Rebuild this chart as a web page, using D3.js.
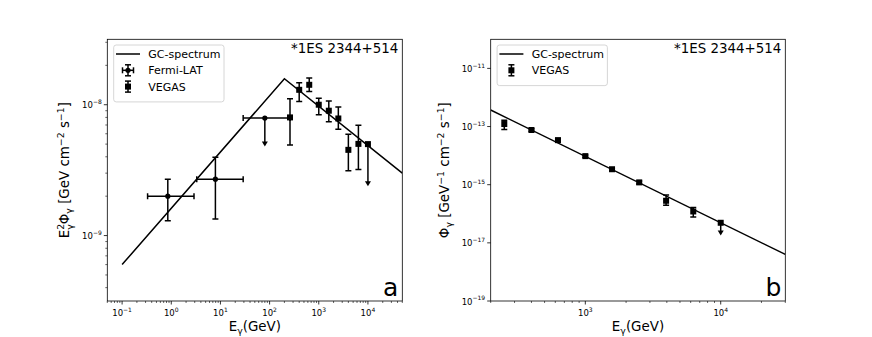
<!DOCTYPE html>
<html>
<head>
<meta charset="utf-8">
<script src="https://d3js.org/d3.v7.min.js"></script>
<style>
  body { margin: 0; background: #fff; }
  text { font-family: "DejaVu Sans", sans-serif; fill: #000; }
</style>
</head>
<body>
<div id="chart"></div>
<script>
// ---- panel a : E^2 * flux ----
var lineA_E = [0.1, 200, 5e4];
var lineA_F = [6.0e-10, 1.58e-8, 3.0e-9];

var fermi_E   = [0.85, 7.9, 80];
var fermi_Elo = [0.33, 3.3, 29];
var fermi_Ehi = [2.9, 29, 260];
var fermi_F   = [2.0e-9, 2.7e-9, 7.9e-9];
var fermi_Fhi = [2.7e-9, 3.97e-9, null];
var fermi_Flo = [1.3e-9, 1.34e-9, 4.8e-9];
var fermi_UL  = [false, false, true];

var vegasA_E   = [260, 400, 640, 1000, 1600, 2500, 4000, 6400, 10000];
var vegasA_F   = [8.0e-9, 1.30e-8, 1.42e-8, 1.0e-8, 9.0e-9, 7.85e-9, 4.52e-9, 5.02e-9, 5.0e-9];
var vegasA_Fhi = [1.11e-8, 1.47e-8, 1.6e-8, 1.12e-8, 1.07e-8, 9.6e-9, 5.95e-9, 6.98e-9, null];
var vegasA_Flo = [4.93e-9, 1.06e-8, 1.26e-8, 8.4e-9, 7.4e-9, 6.5e-9, 3.13e-9, 3.2e-9, 2.38e-9];
var vegasA_UL  = [false, false, false, false, false, false, false, false, true];

// ---- panel b : flux ----
var lineB_E = [200, 3e4];
var lineB_F = [3.7e-13, 4.0e-18];

var vegasB_E   = [252, 400, 628, 1000, 1575, 2500, 3950, 6270, 10000];
var vegasB_F   = [1.22e-13, 7.6e-14, 3.4e-14, 9.6e-15, 3.4e-15, 1.2e-15, 2.8e-16, 1.2e-16, 4.9e-17];
var vegasB_Fhi = [1.66e-13, 8.4e-14, 3.9e-14, 1.05e-14, 3.7e-15, 1.35e-15, 4.4e-16, 1.65e-16, null];
var vegasB_Flo = [7.9e-14, 6.9e-14, 2.9e-14, 8.8e-15, 3.1e-15, 1.05e-15, 1.97e-16, 7.8e-17, 1.8e-17];
var vegasB_UL  = [false, false, false, false, false, false, false, false, true];

var source = "*1ES 2344+514";

var svg = d3.select("#chart").append("svg")
    .attr("width", 872)
    .attr("height", 337);

// plot area of each panel (vertical extent shared)
var plotTop = 39.3, plotBottom = 301;

function supLabel(sel, exp) {
  sel.text("10");
  sel.append("tspan")
     .attr("dy", -4.3)
     .attr("font-size", "6px")
     .text(exp < 0 ? "\u2212" + (-exp) : exp);
}

function drawPanel(p) {
  var top = plotTop, bottom = plotBottom;
  var x = d3.scaleLog().domain(p.xDomain).range([p.left, p.right]);
  var y = d3.scaleLog().domain(p.yDomain).range([bottom, top]);
  var g = svg.append("g");

  var clipId = "clip" + p.name;
  svg.append("clipPath").attr("id", clipId)
     .append("rect")
     .attr("x", p.left).attr("y", top)
     .attr("width", p.right - p.left).attr("height", bottom - top);

  // x ticks
  var xmin = Math.floor(Math.log10(p.xDomain[0])), xmax = Math.ceil(Math.log10(p.xDomain[1]));
  for (var e = xmin; e <= xmax; e++) {
    for (var k = 1; k < 10; k++) {
      var v = k * Math.pow(10, e);
      if (v < p.xDomain[0] * 0.999 || v > p.xDomain[1] * 1.001) continue;
      var xx = x(v);
      g.append("line")
       .attr("x1", xx).attr("x2", xx)
       .attr("y1", bottom).attr("y2", bottom + (k == 1 ? 3.5 : 2))
       .attr("stroke", "#000").attr("stroke-width", k == 1 ? 0.8 : 0.6);
      if (k == 1) {
        g.append("text")
         .attr("x", xx).attr("y", bottom + 15)
         .attr("text-anchor", "middle")
         .attr("font-size", "8.5px")
         .call(supLabel, e);
      }
    }
  }

  // y ticks
  var ymin = Math.floor(Math.log10(p.yDomain[0])), ymax = Math.ceil(Math.log10(p.yDomain[1]));
  for (var e2 = ymin; e2 <= ymax; e2++) {
    for (var k2 = 1; k2 < 10; k2++) {
      if (k2 > 1 && !p.yMinor) continue;
      if (k2 == 1 && p.yStep && (e2 - ymin) % p.yStep != 0) continue;
      var v2 = k2 * Math.pow(10, e2);
      if (v2 < p.yDomain[0] * 0.999 || v2 > p.yDomain[1] * 1.001) continue;
      var yy = y(v2);
      g.append("line")
       .attr("x1", p.left).attr("x2", p.left - (k2 == 1 ? 3.5 : 2))
       .attr("y1", yy).attr("y2", yy)
       .attr("stroke", "#000").attr("stroke-width", k2 == 1 ? 0.8 : 0.6);
      if (k2 == 1) {
        g.append("text")
         .attr("x", p.left - 5.5).attr("y", yy + 3.5)
         .attr("text-anchor", "end")
         .attr("font-size", "8.5px")
         .call(supLabel, e2);
      }
    }
  }

  var plot = g.append("g").attr("clip-path", "url(#" + clipId + ")");

  // model line
  var line = d3.line().x(function(d) { return x(d[0]); }).y(function(d) { return y(d[1]); });
  plot.append("path")
      .datum(d3.zip(p.lineE, p.lineF))
      .attr("d", line)
      .attr("fill", "none")
      .attr("stroke", "#000")
      .attr("stroke-width", 1.5);

  // data sets with error bars
  p.sets.forEach(function(s) {
    s.E.forEach(function(E, i) {
      var cx = x(E), cy = y(s.F[i]);
      var yt = s.Fhi[i] != null ? y(s.Fhi[i]) : cy;
      var yb = y(s.Flo[i]);
      plot.append("line")
          .attr("x1", cx).attr("x2", cx).attr("y1", yt).attr("y2", s.UL[i] ? yb - 4 : yb)
          .attr("stroke", "#000").attr("stroke-width", 1.5);
      if (s.Fhi[i] != null)
        plot.append("line").attr("x1", cx - 3).attr("x2", cx + 3).attr("y1", yt).attr("y2", yt)
            .attr("stroke", "#000").attr("stroke-width", 1.5);
      if (s.UL[i]) {
        plot.append("path")
            .attr("d", "M" + (cx - 3) + "," + (yb - 5) + "L" + (cx + 3) + "," + (yb - 5) + "L" + cx + "," + yb + "Z")
            .attr("fill", "#000");
      } else {
        plot.append("line").attr("x1", cx - 3).attr("x2", cx + 3).attr("y1", yb).attr("y2", yb)
            .attr("stroke", "#000").attr("stroke-width", 1.5);
      }
      if (s.Elo) {
        var xl = x(s.Elo[i]), xr = x(s.Ehi[i]);
        plot.append("line").attr("x1", xl).attr("x2", xr).attr("y1", cy).attr("y2", cy)
            .attr("stroke", "#000").attr("stroke-width", 1.5);
        [xl, xr].forEach(function(xc) {
          plot.append("line").attr("x1", xc).attr("x2", xc).attr("y1", cy - 3).attr("y2", cy + 3)
              .attr("stroke", "#000").attr("stroke-width", 1.5);
        });
      }
      if (s.marker == "circle") {
        plot.append("circle").attr("cx", cx).attr("cy", cy).attr("r", 2.6).attr("fill", "#000");
      } else {
        plot.append("rect").attr("x", cx - 3).attr("y", cy - 3).attr("width", 6).attr("height", 6).attr("fill", "#000");
      }
    });
  });

  // frame
  g.append("rect")
   .attr("x", p.left).attr("y", top)
   .attr("width", p.right - p.left).attr("height", bottom - top)
   .attr("fill", "none").attr("stroke", "#000").attr("stroke-width", 0.8);

  // source name and panel letter
  g.append("text")
   .attr("x", p.right - 4).attr("y", top + 13.5)
   .attr("text-anchor", "end").attr("font-size", "13.4px")
   .text(source);
  g.append("text")
   .attr("x", p.right - 4).attr("y", bottom - 5)
   .attr("text-anchor", "end").attr("font-size", "25px")
   .text(p.name);

  // x label
  var xl = g.append("text")
   .attr("x", (p.left + p.right) / 2).attr("y", bottom + 30)
   .attr("text-anchor", "middle").attr("font-size", "13.4px")
   .text("E");
  xl.append("tspan").attr("dy", 3).attr("font-size", "9.4px").text("\u03b3");
  xl.append("tspan").attr("dy", -3).text("(GeV)");

  // y label
  var yl = g.append("text")
   .attr("transform", "translate(" + p.yLabelX + "," + ((top + bottom) / 2) + ") rotate(-90)")
   .attr("text-anchor", "middle").attr("font-size", "13.4px");
  p.yLabel(yl);

  // legend
  var lg = g.append("g").attr("transform", "translate(" + (p.left + 6.4) + "," + (top + 5.7) + ")");
  var rows = p.legend;
  lg.append("rect")
    .attr("width", 110.3).attr("height", 8 + rows.length * 16.3)
    .attr("rx", 2.5)
    .attr("fill", "#fff").attr("fill-opacity", 0.8)
    .attr("stroke", "#ccc").attr("stroke-width", 0.8);
  rows.forEach(function(r, i) {
    var ry = 9 + i * 16.3, mx = 14.3;
    if (r.type == "line") {
      lg.append("line").attr("x1", mx - 12).attr("x2", mx + 12).attr("y1", ry).attr("y2", ry)
        .attr("stroke", "#000").attr("stroke-width", 1.5);
    } else {
      lg.append("line").attr("x1", mx).attr("x2", mx).attr("y1", ry - 5.5).attr("y2", ry + 5.5)
        .attr("stroke", "#000").attr("stroke-width", 1.5);
      [ry - 5.5, ry + 5.5].forEach(function(c) {
        lg.append("line").attr("x1", mx - 3).attr("x2", mx + 3).attr("y1", c).attr("y2", c)
          .attr("stroke", "#000").attr("stroke-width", 1.5);
      });
      if (r.type == "circle") {
        lg.append("line").attr("x1", mx - 5.5).attr("x2", mx + 5.5).attr("y1", ry).attr("y2", ry)
          .attr("stroke", "#000").attr("stroke-width", 1.5);
        [mx - 5.5, mx + 5.5].forEach(function(c) {
          lg.append("line").attr("x1", c).attr("x2", c).attr("y1", ry - 3).attr("y2", ry + 3)
            .attr("stroke", "#000").attr("stroke-width", 1.5);
        });
        lg.append("circle").attr("cx", mx).attr("cy", ry).attr("r", 2.6).attr("fill", "#000");
      } else {
        lg.append("rect").attr("x", mx - 3).attr("y", ry - 3).attr("width", 6).attr("height", 6).attr("fill", "#000");
      }
    }
    lg.append("text").attr("x", 34.6).attr("y", ry + 4).attr("font-size", "11px").text(r.label);
  });
}

drawPanel({
  name: "a",
  left: 107.3, right: 402.3,
  xDomain: [0.05, 5e4],
  yDomain: [Math.pow(10, -9.5), Math.pow(10, -7.5)],
  yMinor: true,
  lineE: lineA_E, lineF: lineA_F,
  sets: [
    {E: fermi_E, Elo: fermi_Elo, Ehi: fermi_Ehi, F: fermi_F, Fhi: fermi_Fhi, Flo: fermi_Flo, UL: fermi_UL, marker: "circle"},
    {E: vegasA_E, F: vegasA_F, Fhi: vegasA_Fhi, Flo: vegasA_Flo, UL: vegasA_UL, marker: "square"}
  ],
  legend: [
    {type: "line", label: "GC-spectrum"},
    {type: "circle", label: "Fermi-LAT"},
    {type: "square", label: "VEGAS"}
  ],
  yLabelX: 69,
  yLabel: function(t) {
    t.append("tspan").text("E");
    t.append("tspan").attr("dy", -5.5).attr("font-size", "9.4px").text("2");
    t.append("tspan").attr("dx", -6).attr("dy", 9.5).attr("font-size", "9.4px").text("\u03b3");
    t.append("tspan").attr("dy", -4).text("\u03a6");
    t.append("tspan").attr("dy", 3).attr("font-size", "9.4px").text("\u03b3");
    t.append("tspan").attr("dy", -3).text(" [GeV cm");
    t.append("tspan").attr("dy", -5.5).attr("font-size", "9.4px").text("\u22122");
    t.append("tspan").attr("dy", 5.5).text(" s");
    t.append("tspan").attr("dy", -5.5).attr("font-size", "9.4px").text("\u22121");
    t.append("tspan").attr("dy", 5.5).text("]");
  }
});

drawPanel({
  name: "b",
  left: 490.7, right: 785.3,
  xDomain: [200, 3e4],
  yDomain: [1e-19, 1e-10],
  yMinor: false,
  yStep: 2,
  lineE: lineB_E, lineF: lineB_F,
  sets: [
    {E: vegasB_E, F: vegasB_F, Fhi: vegasB_Fhi, Flo: vegasB_Flo, UL: vegasB_UL, marker: "square"}
  ],
  legend: [
    {type: "line", label: "GC-spectrum"},
    {type: "square", label: "VEGAS"}
  ],
  yLabelX: 449,
  yLabel: function(t) {
    t.append("tspan").text("\u03a6");
    t.append("tspan").attr("dy", 3).attr("font-size", "9.4px").text("\u03b3");
    t.append("tspan").attr("dy", -3).text(" [GeV");
    t.append("tspan").attr("dy", -5.5).attr("font-size", "9.4px").text("\u22121");
    t.append("tspan").attr("dy", 5.5).text(" cm");
    t.append("tspan").attr("dy", -5.5).attr("font-size", "9.4px").text("\u22122");
    t.append("tspan").attr("dy", 5.5).text(" s");
    t.append("tspan").attr("dy", -5.5).attr("font-size", "9.4px").text("\u22121");
    t.append("tspan").attr("dy", 5.5).text("]");
  }
});
</script>
</body>
</html>
